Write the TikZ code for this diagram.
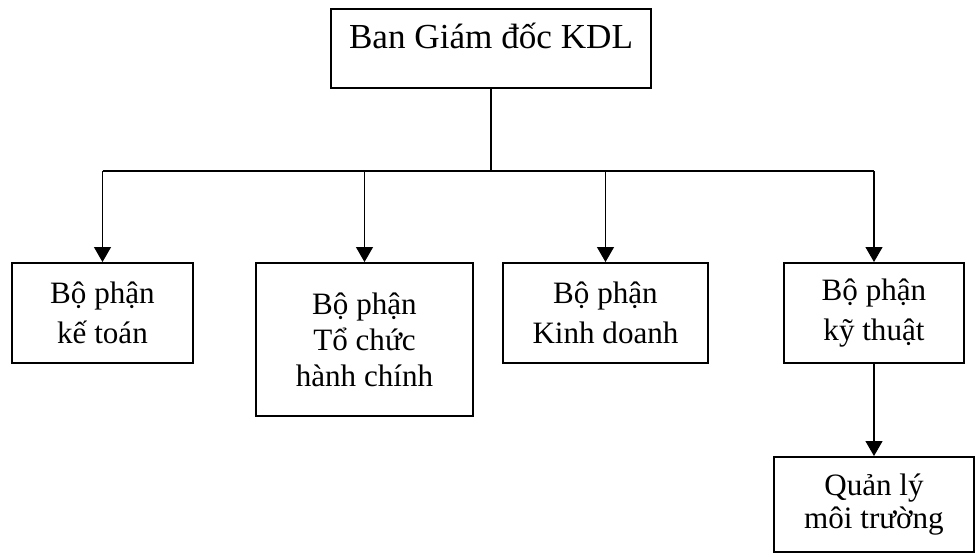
\documentclass[tikz,border=0pt]{standalone}
\usepackage{fontspec}
\setmainfont{Liberation Serif}
\usetikzlibrary{arrows.meta}

\tikzset{
	unit/.style  = {draw, line width=1.1pt, align=center, inner sep=0pt,
	                font=\fontsize{17.7}{22.5}\selectfont},
	board/.style = {draw, line width=1.1pt, align=center, inner sep=0pt,
	                font=\fontsize{20}{24}\selectfont, text height=12pt, text depth=12pt},
	link/.style  = {line width=0.6pt},
	feed/.style  = {line width=0.6pt, -{Triangle[length=0.3cm, width=0.34cm]}}
}

\begin{document}
\begin{tikzpicture}[x=0.02cm, y=-0.02cm]
	\useasboundingbox (0,0) rectangle (975,557);

	% ban giam doc
	\node [board, minimum width=6.4cm, minimum height=1.58cm] (bgd) at (491,48.5) {Ban Giám đốc KDL};

	% cac bo phan
	\node [unit, minimum width=3.62cm, minimum height=2cm]   (ketoan)   at (102.5,313) {Bộ phận\\kế toán};
	\node [unit, minimum width=4.34cm, minimum height=3.06cm, font=\fontsize{17.7}{20.5}\selectfont] (tochuc) at (364.5,339.5) {Bộ phận\\Tổ chức\\hành chính};
	\node [unit, minimum width=4.1cm, minimum height=2cm]    (kinhdoanh) at (605.5,313) {Bộ phận\\Kinh doanh};
	\node [unit, minimum width=3.6cm, minimum height=2cm]    (kythuat)  at (874,313) {Bộ phận\\kỹ thuật};
	\node [unit, minimum width=4cm, minimum height=1.9cm, font=\fontsize{17.7}{19}\selectfont] (moitruong) at (874,504.5) {Quản lý\\môi trường};

	\coordinate (busL) at (102.5,171);
	\coordinate (busR) at (874,171);
	\coordinate (busM) at (491,171);

	\draw [link] (bgd.south) -- (busM);
	\draw [link] (busL) -- (busR);
	\draw [feed] (busL) -- (ketoan.north);
	\draw [feed] (busL -| tochuc.north) -- (tochuc.north);
	\draw [feed] (busL -| kinhdoanh.north) -- (kinhdoanh.north);
	\draw [feed] (busR) -- (kythuat.north);
	\draw [feed] (kythuat.south) -- (moitruong.north);
\end{tikzpicture}
\end{document}
